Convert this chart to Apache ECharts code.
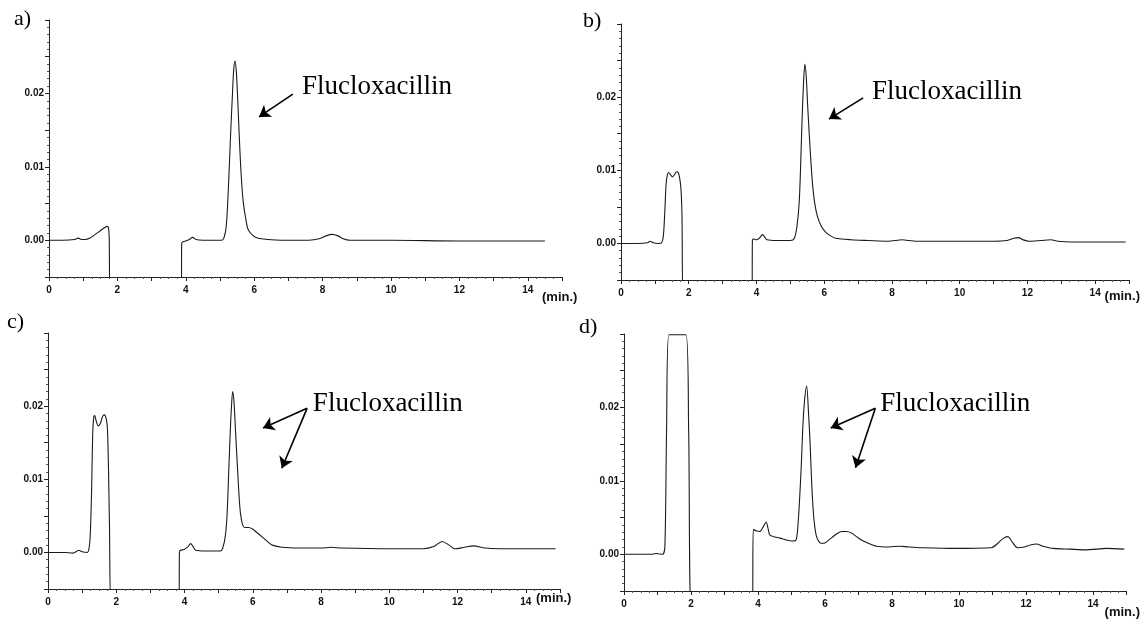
<!DOCTYPE html>
<html style="height: 100%">
<head>
    <meta charset="utf-8">
    <script src="https://cdn.jsdelivr.net/npm/echarts@6.0.0/dist/echarts.min.js"></script>
</head>
<body style="height:100%;margin:0;background:#fff">
    <div id="main" style="width:1141px;height:619px;"></div>
    <script type="text/javascript">

        // chromatogram traces, [time (min), absorbance]
        var traceA = [
            [0,0],[0.4,0],[0.75,0.0001],[0.85,0.0003],[0.95,0.0001],[1.05,0.0001],[1.2,0.0003],[1.35,0.0008],
            [1.5,0.0013],[1.62,0.0017],[1.7,0.0019],[1.74,0.0017],[1.76,0.0005],[1.79,-0.008],[3.87,-0.008],
            [3.88,-0.0004],[3.92,-0.0002],[4.0,-0.0001],[4.1,0.0001],[4.2,0.0004],[4.3,0.0001],[4.5,0],
            [5.05,0],[5.12,0.0004],[5.18,0.0018],[5.23,0.0055],[5.28,0.011],[5.32,0.0155],[5.36,0.0195],
            [5.4,0.0232],[5.44,0.0244],[5.48,0.0228],[5.52,0.019],[5.56,0.0145],[5.6,0.0105],[5.64,0.0074],
            [5.68,0.0052],[5.75,0.003],[5.82,0.0015],[5.95,0.0007],[6.1,0.0003],[6.4,0.0001],[6.8,0],
            [7.6,0],[7.9,0.0002],[8.1,0.0006],[8.28,0.0008],[8.45,0.0006],[8.6,0.0002],[8.8,0],[10,0],
            [12,-0.0001],[14.5,-0.0001]
        ];
        var traceB = [
            [0,0],[0.5,0],[0.78,0.0001],[0.86,0.0003],[0.95,0.0001],[1.1,0],[1.2,0.0001],[1.25,0.001],
            [1.29,0.004],[1.33,0.008],[1.37,0.0094],[1.41,0.0097],[1.46,0.0094],[1.52,0.0091],[1.58,0.0094],
            [1.64,0.0098],[1.69,0.0097],[1.73,0.009],[1.77,0.0075],[1.8,0.004],[1.84,-0.008],[3.87,-0.008],
            [3.88,0.0005],[3.93,0.0006],[3.99,0.0005],[4.08,0.0007],[4.18,0.0012],[4.24,0.0009],[4.31,0.0005],
            [4.6,0.0004],[5.0,0.0004],[5.12,0.0007],[5.2,0.0025],[5.26,0.0055],[5.3,0.01],[5.34,0.016],
            [5.39,0.022],[5.43,0.0245],[5.47,0.0228],[5.51,0.019],[5.56,0.0148],[5.61,0.011],[5.66,0.0079],
            [5.72,0.0055],[5.8,0.0037],[5.92,0.0023],[6.05,0.0015],[6.2,0.001],[6.34,0.0007],[6.8,0.0005],
            [7.3,0.0004],[7.9,0.0003],[8.1,0.0004],[8.3,0.0005],[8.5,0.0004],[8.8,0.0003],[10,0.0003],
            [11.0,0.0003],[11.4,0.0004],[11.6,0.0007],[11.73,0.0008],[11.87,0.0005],[12.05,0.0003],
            [12.4,0.0004],[12.69,0.0005],[12.9,0.0003],[13.3,0.0002],[14,0.0002],[14.9,0.0002]
        ];
        var traceC = [
            [0,0],[0.5,0],[0.72,-0.0001],[0.82,0.0001],[0.9,0.0003],[1.0,0.0001],[1.15,0],[1.2,0.0005],
            [1.24,0.0026],[1.28,0.009],[1.31,0.0163],[1.34,0.0185],[1.37,0.0187],[1.41,0.018],[1.47,0.0173],
            [1.53,0.0176],[1.6,0.0186],[1.65,0.0188],[1.7,0.0184],[1.74,0.017],[1.77,0.012],[1.8,0.004],
            [1.86,-0.008],[3.84,-0.008],[3.85,0],[3.88,0.0003],[3.99,0.0004],[4.1,0.0008],[4.18,0.0012],
            [4.25,0.0008],[4.33,0.0003],[4.6,0.0002],[5.05,0.0002],[5.12,0.0006],[5.2,0.0024],[5.25,0.0055],
            [5.3,0.0117],[5.34,0.0165],[5.37,0.0195],[5.41,0.022],[5.45,0.0205],[5.5,0.016],[5.55,0.0117],
            [5.6,0.0075],[5.64,0.0053],[5.7,0.0038],[5.76,0.0034],[5.88,0.0034],[5.99,0.0032],[6.1,0.0028],
            [6.28,0.0021],[6.45,0.0014],[6.57,0.001],[6.86,0.0007],[7.35,0.0006],[8.0,0.0006],[8.3,0.0007],
            [8.6,0.0006],[10,0.0005],[11.0,0.0005],[11.3,0.0008],[11.55,0.0015],[11.75,0.001],[11.92,0.0005],
            [12.2,0.0007],[12.46,0.0009],[12.8,0.0006],[13.23,0.0005],[14.87,0.0005]
        ];
        var traceD = [
            [0,0],[0.8,0],[0.95,0.0001],[1.15,0],[1.22,0.001],[1.27,0.0167],[1.34,0.0299],[1.85,0.0299],
            [1.93,0.0167],[2.02,-0.008],[3.83,-0.008],[3.86,0.0034],[3.94,0.0032],[4.05,0.0031],[4.16,0.0038],
            [4.24,0.0044],[4.3,0.0035],[4.36,0.0026],[4.65,0.0022],[5.04,0.0018],[5.14,0.002],[5.2,0.0045],
            [5.24,0.0075],[5.29,0.012],[5.33,0.0167],[5.38,0.0205],[5.45,0.0229],[5.51,0.019],[5.55,0.0155],
            [5.58,0.0121],[5.62,0.008],[5.67,0.0047],[5.74,0.0025],[5.82,0.0017],[5.9,0.0015],[5.97,0.0015],
            [6.1,0.0019],[6.21,0.0023],[6.35,0.0028],[6.5,0.0031],[6.65,0.0031],[6.79,0.0029],[6.94,0.0024],
            [7.1,0.0019],[7.24,0.0016],[7.53,0.0011],[7.9,0.001],[8.22,0.0011],[8.5,0.001],[8.9,0.0009],
            [9.88,0.0008],[10.96,0.0009],[11.16,0.0015],[11.3,0.0021],[11.45,0.0024],[11.6,0.0016],
            [11.74,0.0009],[11.95,0.001],[12.15,0.0013],[12.31,0.0014],[12.5,0.0011],[12.82,0.0008],
            [13.3,0.0007],[13.8,0.0006],[14.1,0.0007],[14.39,0.0008],[14.93,0.0007]
        ];

        var traces = [traceA, traceB, traceC, traceD];
        var panelNames = ['a)', 'b)', 'c)', 'd)'];
        var peakName = 'Flucloxacillin';

        // annotation: text anchor and arrows (data coords)
        var labelPos = [[7.4, 0.0209], [7.41, 0.0207], [7.76, 0.0203], [7.65, 0.0205]];
        var arrows = [
            [[[7.13, 0.0199], [6.14, 0.0168]]],
            [[[7.15, 0.0199], [6.14, 0.0170]]],
            [[[7.59, 0.0197], [6.30, 0.0170]], [[7.59, 0.0197], [6.85, 0.0115]]],
            [[[7.50, 0.0199], [6.17, 0.0172]], [[7.50, 0.0199], [6.91, 0.0118]]]
        ];

        // grid layout per panel
        var grids = [
            {left: 49, top: 20, width: 513, height: 257},
            {left: 621, top: 24, width: 508, height: 256},
            {left: 48, top: 333, width: 512, height: 256},
            {left: 624, top: 334, width: 508, height: 257}
        ];
        var unitGap = [-20, -30, -24, -22];
        var unitDrop = [14, 10, 3, 15];
        var tagPos = [[14, 8], [583, 10], [7, 311], [579, 316]];

        var axisFont = "'Liberation Sans Narrow', 'Liberation Sans', Arial";
        var lineColor = '#222';

        var myChart = echarts.init(document.getElementById('main'));

        var xAxes = [], yAxes = [], series = [], graphics = [];
        for (var i = 0; i < 4; i++) {
            xAxes.push({
                type: 'value', gridIndex: i, min: 0, max: 15, interval: 1,
                name: '(min.)', nameLocation: 'end', nameGap: unitGap[i],
                nameTextStyle: {
                    fontFamily: 'Liberation Sans', fontWeight: 'bold', fontSize: 13,
                    color: '#111', verticalAlign: 'top', padding: [unitDrop[i], 0, 0, 0]
                },
                axisLine: {onZero: false, lineStyle: {color: lineColor, width: 1}},
                axisTick: {length: 4, lineStyle: {color: lineColor}},
                minorTick: {show: true, splitNumber: 4, length: 2, lineStyle: {color: '#555'}},
                splitLine: {show: false},
                axisLabel: {
                    margin: 8, fontFamily: axisFont, fontWeight: 'bold', fontSize: 10, color: '#111',
                    formatter: function (v) { return (v % 2 === 0 && v <= 14) ? String(v) : ''; }
                }
            });
            yAxes.push({
                type: 'value', gridIndex: i, min: -0.005, max: 0.03, interval: 0.005,
                axisLine: {show: true, lineStyle: {color: lineColor, width: 1}},
                axisTick: {show: true, length: 4, lineStyle: {color: lineColor}},
                minorTick: {show: true, splitNumber: 5, length: 2, lineStyle: {color: '#555'}},
                splitLine: {show: false},
                axisLabel: {
                    margin: 5, fontFamily: axisFont, fontWeight: 'bold', fontSize: 10, color: '#111',
                    formatter: function (v) {
                        var k = Math.round(v * 1000);
                        return (k === 0 || k === 10 || k === 20) ? v.toFixed(2) : '';
                    }
                }
            });
            var ml = [];
            arrows[i].forEach(function (a) {
                ml.push([{coord: a[0]}, {coord: a[1]}]);
            });
            series.push({
                type: 'line', xAxisIndex: i, yAxisIndex: i,
                data: traces[i], showSymbol: false, smooth: 0.3, clip: true,
                lineStyle: {color: '#1a1a1a', width: 1.1},
                silent: true,
                markLine: {
                    silent: true, symbol: ['none', 'arrow'], symbolSize: 11,
                    label: {show: false},
                    lineStyle: {type: 'solid', color: '#000', width: 1.6},
                    data: ml
                },
                markPoint: {
                    silent: true, symbol: 'circle', symbolSize: 0,
                    label: {
                        show: true, position: 'right', distance: 0,
                        formatter: peakName, color: '#000',
                        fontFamily: "'Liberation Serif', 'Times New Roman', serif", fontSize: 27
                    },
                    data: [{coord: labelPos[i]}]
                }
            });
            graphics.push({
                type: 'text', left: tagPos[i][0], top: tagPos[i][1],
                style: {text: panelNames[i], fill: '#000', font: "22px 'Liberation Serif', serif"}
            });
        }

        var option = {
            animation: false,
            backgroundColor: '#fff',
            grid: grids,
            xAxis: xAxes,
            yAxis: yAxes,
            series: series,
            graphic: graphics
        };
        myChart.setOption(option);
    </script>
</body>
</html>
